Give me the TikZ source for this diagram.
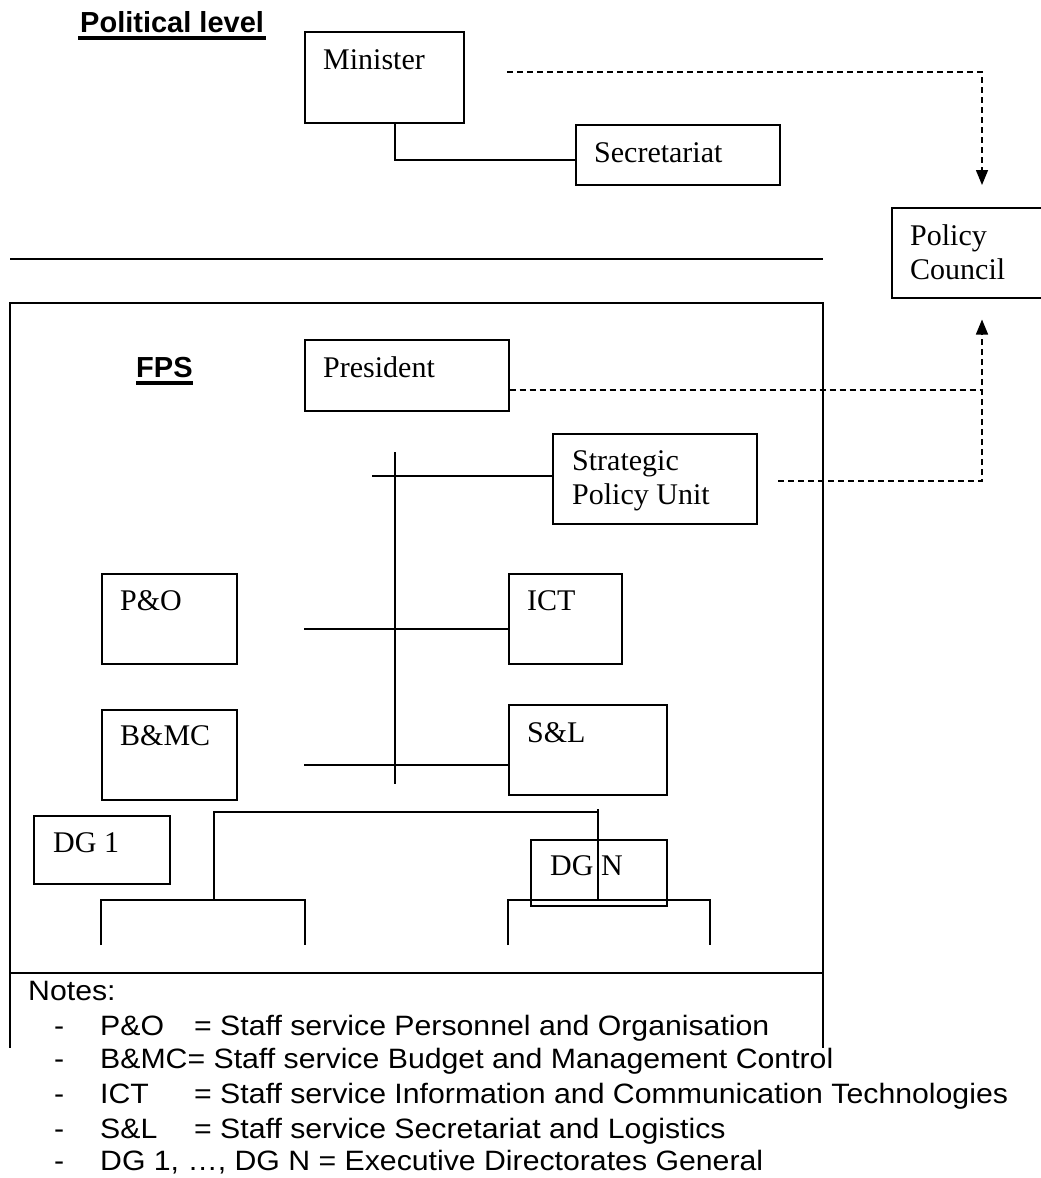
\documentclass[tikz,border=0pt]{standalone}
\usepackage{fontspec}
\setmainfont{Liberation Serif}
\newfontfamily\headsans{Liberation Sans}
\newfontfamily\notesans[FakeStretch=1.08]{Liberation Sans}
\usetikzlibrary{arrows.meta}
% thick underline; #1 = extra length on each side, #2 = text
\newcommand\thickul[2]{{\setbox0=\hbox{#2}\leavevmode\rlap{\kern-#1\vrule height -3.5pt depth 7.5pt width \dimexpr\wd0+#1+#1\relax}\box0}}
\begin{document}
\begin{tikzpicture}[x=1pt,y=-1pt,
  orgbox/.style={draw, line width=1.5pt, inner sep=0pt, anchor=north west},
  boxlabel/.style={font=\fontsize{30}{34}\selectfont, inner sep=0pt, anchor=base west, align=left},
  heading/.style={font=\headsans\bfseries\fontsize{29}{34}\selectfont, inner sep=0pt, anchor=base west},
  notetext/.style={font=\notesans\fontsize{28}{34}\selectfont, inner sep=0pt, anchor=base west},
  link/.style={line width=1.3pt},
  dotlink/.style={line width=1.5pt, dash pattern=on 6pt off 4pt},
  tip/.style={-{Triangle[length=15pt,width=12pt]}},
]
\useasboundingbox (0,0) rectangle (1041,1178);
\fill[white] (0,0) rectangle (1041,1178);

% headings
\node[heading] (pol) at (80,32) {\thickul{2pt}{Political level}};
\node[heading] (fpslabel) at (136,377) {\thickul{0pt}{FPS}};

% boxes
\node[orgbox, minimum width=159pt, minimum height=91pt] (minister) at (304,31) {};
\node[boxlabel] (minister-t) at (323,69) {Minister};
\node[orgbox, minimum width=204pt, minimum height=60pt] (secretariat) at (575,124) {};
\node[boxlabel] (secretariat-t) at (594,162) {Secretariat};
\node[orgbox, minimum width=160pt, minimum height=90pt] (council) at (891,207) {};
\node[boxlabel] (council-t) at (910,279) {Policy\\Council};
\node[orgbox, minimum width=204pt, minimum height=71pt] (president) at (304,339) {};
\node[boxlabel] (president-t) at (323,377) {President};
\node[orgbox, minimum width=204pt, minimum height=90pt] (spu) at (552,433) {};
\node[boxlabel] (spu-t) at (572,504) {Strategic\\Policy Unit};
\node[orgbox, minimum width=135pt, minimum height=90pt] (po) at (101,573) {};
\node[boxlabel] (po-t) at (120,610) {P\&O};
\node[orgbox, minimum width=113pt, minimum height=90pt] (ict) at (508,573) {};
\node[boxlabel] (ict-t) at (527,610) {ICT};
\node[orgbox, minimum width=135pt, minimum height=90pt] (bmc) at (101,709) {};
\node[boxlabel] (bmc-t) at (120,745) {B\&MC};
\node[orgbox, minimum width=158pt, minimum height=90pt] (sl) at (508,704) {};
\node[boxlabel] (sl-t) at (527,742) {S\&L};
\node[orgbox, minimum width=136pt, minimum height=68pt] (dg1) at (33,815) {};
\node[boxlabel] (dg1-t) at (53,852) {DG 1};
\node[orgbox, minimum width=136pt, minimum height=66pt] (dgn) at (530,839) {};
\node[boxlabel] (dgn-t) at (550,875) {DG N};

% separator and FPS frame
\draw[line width=1.5pt] (10,259) -- (823,259);
\draw[line width=1.5pt] (10,303) rectangle (823,973);
\draw[line width=1.5pt] (10,973) -- (10,1048);
\draw[line width=1.5pt] (823,973) -- (823,1048);

% political connectors
\coordinate (mdash) at (507,72);
\draw[link] (395,0 |- minister.south) -- (395,160) -- (secretariat.west |- 0,160);
\draw[dotlink,tip,shorten >=22pt] (mdash) -| (982,0 |- council.north);

% FPS dashed connectors
\coordinate (sdash) at (778,481);
\draw[dotlink] (president.east |- 0,390) -- (982,390);
\draw[dotlink,tip,shorten >=21pt] (sdash) -| (982,0 |- council.south);

% FPS solid connectors
\draw[link] (372,476) -- (spu.west |- 0,476);
\draw[link] (395,452) -- (395,784);
\draw[link] (304,629) -- (ict.west |- 0,629);
\draw[link] (304,765) -- (sl.west |- 0,765);
\draw[link] (214,900) -- (214,812) -- (598,812);
\draw[link] (598,809) -- (598,900);
\draw[link] (101,945) |- (305,900) -- (305,945);
\draw[link] (508,945) |- (710,900) -- (710,945);

% notes
\node[notetext] (notes) at (28,1000) {Notes:};
\node[notetext] (n1) at (54,1035) {\makebox[46pt][l]{-}\makebox[94pt][l]{P\&O}= Staff service Personnel and Organisation};
\node[notetext] (n2) at (54,1068) {\makebox[46pt][l]{-}B\&MC= Staff service Budget and Management Control};
\node[notetext] (n3) at (54,1103) {\makebox[46pt][l]{-}\makebox[94pt][l]{ICT}= Staff service Information and Communication Technologies};
\node[notetext] (n4) at (54,1138) {\makebox[46pt][l]{-}\makebox[94pt][l]{S\&L}= Staff service Secretariat and Logistics};
\node[notetext] (n5) at (54,1170) {\makebox[46pt][l]{-}DG 1, \dots, DG N = Executive Directorates General};
\end{tikzpicture}
\end{document}
